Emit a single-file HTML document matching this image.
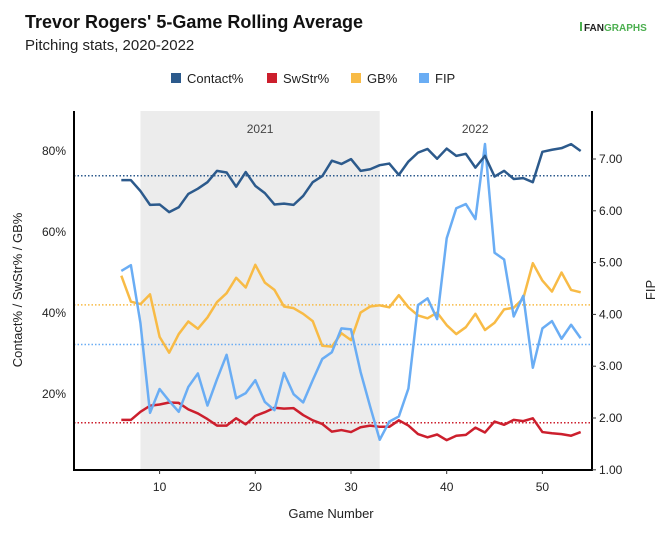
<!DOCTYPE html>
<html><head><meta charset="utf-8"><style>
body{margin:0;background:#fff;width:669px;height:539px;overflow:hidden;font-family:"Liberation Sans",sans-serif}
</style></head><body>
<svg id="chart" width="669" height="539" xmlns="http://www.w3.org/2000/svg" font-family="Liberation Sans, sans-serif">
<text x="25" y="28" font-size="18" font-weight="bold" fill="#111">Trevor Rogers' 5-Game Rolling Average</text>
<text x="25" y="50" font-size="15" fill="#222">Pitching stats, 2020-2022</text>
<g><rect x="580" y="22" width="2" height="9" fill="#4caf50"/><text x="584" y="31" font-size="10" font-weight="bold" fill="#222">FAN<tspan fill="#4caf50">GRAPHS</tspan></text></g>
<g font-size="13" fill="#222">
<g><rect x="171" y="73" width="10" height="10" fill="#2c5a8c"/><text x="187" y="83">Contact%</text></g>
<g><rect x="267" y="73" width="10" height="10" fill="#cc1f2d"/><text x="283" y="83">SwStr%</text></g>
<g><rect x="351" y="73" width="10" height="10" fill="#f8bb46"/><text x="367" y="83">GB%</text></g>
<g><rect x="419" y="73" width="10" height="10" fill="#6aadf4"/><text x="435" y="83">FIP</text></g>
</g>
<g id="plot"></g>
<text x="331" y="518" font-size="13" text-anchor="middle" fill="#222">Game Number</text>
<text transform="translate(22,290) rotate(-90)" font-size="13" text-anchor="middle" fill="#222">Contact% / SwStr% / GB%</text>
<text transform="translate(655,290) rotate(-90)" font-size="13" text-anchor="middle" fill="#222">FIP</text>
</svg>
<script>
const games=[6,7,8,9,10,11,12,13,14,15,16,17,18,19,20,21,22,23,24,25,26,27,28,29,30,31,32,33,34,35,36,37,38,39,40,41,42,43,44,45,46,47,48,49,50,51,52,53,54];
const contact=[72.8,72.8,70.1,66.7,66.8,64.9,66.1,69.4,70.7,72.3,75.1,74.7,71.2,74.8,71.4,69.6,66.8,67.0,66.7,68.9,72.3,73.8,77.6,76.8,78.0,75.1,75.5,76.5,76.9,74.1,77.4,79.6,80.5,78.1,80.6,78.8,79.3,75.9,78.8,73.7,75.1,73.1,73.3,72.3,79.8,80.3,80.7,81.7,80.0];
const swstr=[13.6,13.6,15.6,17.1,17.4,17.9,17.8,16.2,15.2,13.8,12.2,12.2,14.0,12.5,14.6,15.5,16.6,16.4,16.5,14.8,13.5,12.6,10.7,11.1,10.6,11.8,12.2,11.9,11.9,13.5,12.2,10.1,9.3,10.0,8.6,9.7,9.9,11.7,10.5,13.2,12.4,13.6,13.3,14.0,10.6,10.3,10.1,9.7,10.6];
const gb=[49.2,42.8,42.2,44.6,34.1,30.2,34.8,37.9,36.1,38.9,42.7,44.9,48.7,46.3,51.9,47.5,45.7,41.6,41.2,39.8,38.0,31.9,31.7,35.0,33.3,40.1,41.6,41.9,41.4,44.4,41.4,39.4,38.7,40.1,37.0,34.8,36.5,39.8,35.8,37.6,40.9,41.3,43.6,52.3,48.0,45.3,50.0,45.7,45.1];
const fip=[4.84,4.95,3.83,2.10,2.56,2.33,2.12,2.60,2.86,2.24,2.75,3.22,2.38,2.48,2.73,2.31,2.15,2.87,2.46,2.30,2.73,3.14,3.27,3.73,3.71,2.89,2.22,1.58,1.93,2.03,2.57,4.18,4.31,3.91,5.47,6.05,6.13,5.84,7.29,5.19,5.06,3.96,4.36,2.97,3.73,3.87,3.53,3.80,3.54];
const averages=[73.9,12.9,42.0];
const fipAverage=[3.42];
const xTicks=[10,20,30,40,50];
const leftTicks=[20,40,60,80];
const rightTicks=[1,2,3,4,5,6,7];
const seasons=[{label:"2021",start:8,end:33},{label:"2022",start:33,end:55}];

const L=74,R=592,T=111,B=470;
const x=g=>159.6+(g-10)*9.57;
const yL=p=>475-p*4.05;
const yR=v=>159+(7-v)*51.8;
const NS="http://www.w3.org/2000/svg";
const plot=document.getElementById('plot');
function mk(tag,attrs,parent){const e=document.createElementNS(NS,tag);for(const k in attrs)e.setAttribute(k,attrs[k]);(parent||plot).appendChild(e);return e;}

const shade=mk('rect',{x:x(seasons[0].start),y:T,width:x(seasons[0].end)-x(seasons[0].start),height:B-T,fill:'#ececec'});


seasons.forEach(s=>{
  const t=mk('text',{x:(x(s.start)+x(Math.min(s.end,54)))/2+(s.label==="2022"?-5:0),y:133,'font-size':12,'text-anchor':'middle',fill:'#444'});
  t.textContent=s.label;
  
  
});

const colors=['#2c5a8c','#cc1f2d','#f8bb46'];
averages.forEach((a,i)=>{
  const l=mk('line',{x1:L,x2:R,y1:yL(a),y2:yL(a),stroke:colors[i],'stroke-width':1.5,'stroke-dasharray':'1.5,2'});
  
  
});
const fl=mk('line',{x1:L,x2:R,y1:yR(fipAverage[0]),y2:yR(fipAverage[0]),stroke:'#6aadf4','stroke-width':1.5,'stroke-dasharray':'1.5,2'});



function series(vals,yf,color,name){
  const p=mk('polyline',{points:vals.map((v,i)=>x(games[i])+','+yf(v)).join(' '),fill:'none',stroke:color,'stroke-width':2.5,'stroke-linejoin':'round'});
  
  
}
series(gb,yL,'#f8bb46','gb-line');
series(swstr,yL,'#cc1f2d','swstr-line');
series(fip,yR,'#6aadf4','fip-line');
series(contact,yL,'#2c5a8c','contact-line');

const ax=mk('path',{d:`M${L},${T}V${B}H${R}V${T}`,fill:'none',stroke:'#000','stroke-width':2});


xTicks.forEach(t=>{
  mk('line',{x1:x(t),x2:x(t),y1:B,y2:B+4,stroke:'#333'});
  const e=mk('text',{x:x(t),y:B+21,'font-size':12,'text-anchor':'middle',fill:'#222'});
  e.textContent=t;
  
  
});
leftTicks.forEach(t=>{
  const e=mk('text',{x:L-8,y:yL(t)+4,'font-size':12,'text-anchor':'end',fill:'#222'});
  e.textContent=t+'%';
  
  
});
rightTicks.forEach(t=>{
  mk('line',{x1:R,x2:R+4,y1:yR(t),y2:yR(t),stroke:'#333'});
  const e=mk('text',{x:R+7,y:yR(t)+4,'font-size':12,fill:'#222'});
  e.textContent=t.toFixed(2);
  
  
});
</script>
</body></html>
